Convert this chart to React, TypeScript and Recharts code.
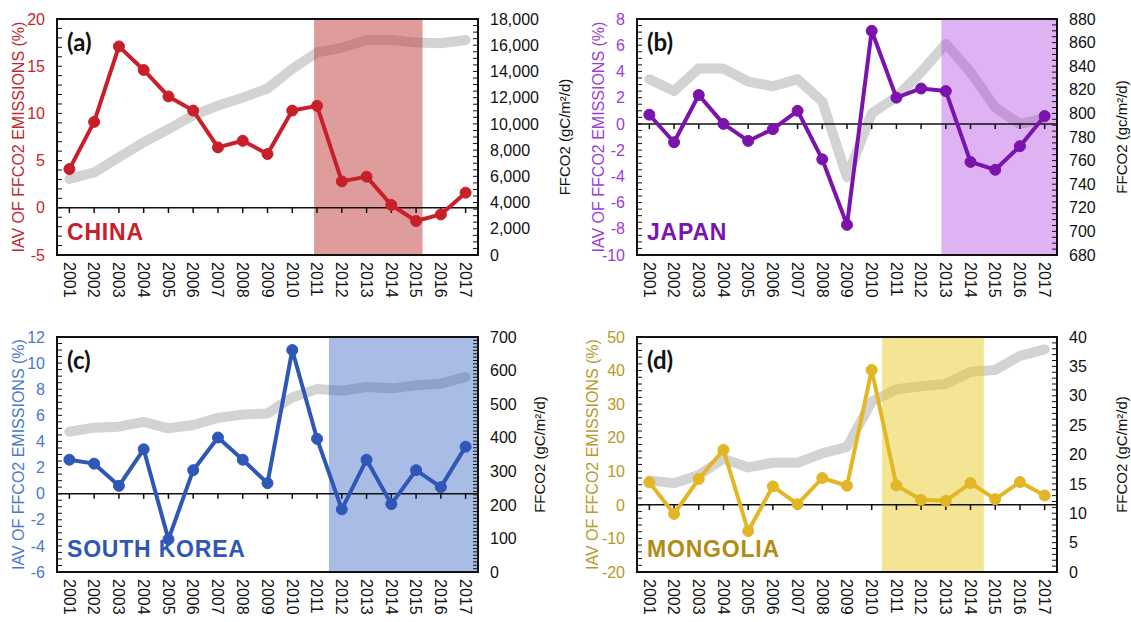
import React from 'react'
import { ComposedChart, Line, XAxis, YAxis, ReferenceArea, ReferenceLine } from 'recharts'

const years = [2001, 2002, 2003, 2004, 2005, 2006, 2007, 2008, 2009, 2010, 2011, 2012, 2013, 2014, 2015, 2016, 2017]

const chinaIav = [4.1, 9.1, 17.1, 14.6, 11.8, 10.3, 6.4, 7.1, 5.7, 10.3, 10.8, 2.8, 3.3, 0.3, -1.4, -0.7, 1.6]
const chinaFfco2 = [5800, 6300, 7450, 8600, 9600, 10650, 11400, 12000, 12700, 14200, 15450, 15800, 16400, 16400, 16200, 16150, 16400]

const japanIav = [0.7, -1.4, 2.2, 0, -1.3, -0.4, 1.0, -2.7, -7.7, 7.1, 2.0, 2.7, 2.5, -2.9, -3.5, -1.7, 0.6]
const japanFfco2 = [829, 819, 838, 838, 827, 823, 829, 810, 746, 800, 814, 835, 859, 835, 805, 791, 796]

const koreaIav = [2.6, 2.3, 0.6, 3.4, -3.5, 1.8, 4.3, 2.6, 0.8, 11.0, 4.2, -1.2, 2.6, -0.8, 1.8, 0.5, 3.6]
const koreaFfco2 = [418, 430, 433, 447, 428, 438, 459, 469, 472, 520, 545, 540, 551, 547, 556, 561, 581]

const mongoliaIav = [6.7, -2.7, 7.7, 16.4, -7.8, 5.5, 0.2, 8.0, 5.7, 40.2, 5.8, 1.5, 1.2, 6.5, 1.7, 6.8, 2.8]
const mongoliaFfco2 = [15.6, 15.1, 16.5, 19.3, 17.8, 18.6, 18.6, 20.2, 21.3, 29.0, 31.1, 31.6, 32.0, 34.1, 34.4, 36.8, 37.9]

const chinaLeftTicks = [-5, 0, 5, 10, 15, 20]
const chinaRightTicks = [0, 2000, 4000, 6000, 8000, 10000, 12000, 14000, 16000, 18000]
const japanLeftTicks = [-10, -8, -6, -4, -2, 0, 2, 4, 6, 8]
const japanRightTicks = [680, 700, 720, 740, 760, 780, 800, 820, 840, 860, 880]
const koreaLeftTicks = [-6, -4, -2, 0, 2, 4, 6, 8, 10, 12]
const koreaRightTicks = [0, 100, 200, 300, 400, 500, 600, 700]
const mongoliaLeftTicks = [-20, -10, 0, 10, 20, 30, 40, 50]
const mongoliaRightTicks = [0, 5, 10, 15, 20, 25, 30, 35, 40]

const FONT = '"Liberation Sans", Arial, sans-serif'

const minorTicks = (min: number, max: number, step: number) => {
  const out: number[] = []
  for (let v = min; v <= max + 1e-9; v += step) out.push(Math.round(v * 100) / 100)
  return out
}

const YearTick = (props: any) => {
  const { x, y, payload } = props
  return (
    <text x={x} y={y} dy="0.36em" transform={`rotate(90, ${x}, ${y})`} textAnchor="start"
      fontSize={16} fontFamily={FONT} fill="#111">
      {payload.value}
    </text>
  )
}

interface PanelProps {
  left: number
  top: number
  width: number
  height: number
  leftW: number
  rightW: number
  marginTop: number
  xAxisH: number
  color: string
  labelColor: string
  nameColor: string
  shade: string
  shadeOpacity: number
  shadeFrom: number
  shadeTo: number
  iav: number[]
  ffco2: number[]
  leftTicks: number[]
  leftStep: number
  rightTicks: number[]
  rightStep: number
  rightFormat?: (v: number) => string
  leftTitleGap: number
  rightTitleGap: number
  rightTitle: string
  letter: string
  country: string
}

function Panel(p: PanelProps) {
  const data = years.map((year, i) => ({ year, iav: p.iav[i], ffco2: p.ffco2[i] }))
  const lMin = p.leftTicks[0]
  const lMax = p.leftTicks[p.leftTicks.length - 1]
  const rMin = p.rightTicks[0]
  const rMax = p.rightTicks[p.rightTicks.length - 1]
  const lMinor = minorTicks(lMin, lMax, p.leftStep)
  const rMinor = minorTicks(rMin, rMax, p.rightStep)
  const tickLen = (lMax - lMin) * 0.022
  const fmt = p.rightFormat || ((v: number) => String(v))

  return (
    <div style={{ position: 'absolute', left: p.left, top: p.top }}>
      <ComposedChart width={p.width} height={p.height} data={data}
        margin={{ top: p.marginTop, right: 0, bottom: 0, left: 0 }}>
        <XAxis dataKey="year" type="number" domain={[2000.5, 2017.5]} ticks={years} interval={0}
          height={p.xAxisH} tickLine={false} axisLine={false} tickSize={0} tickMargin={7}
          tick={<YearTick />} />
        <YAxis yAxisId="left" orientation="left" width={p.leftW} domain={[lMin, lMax]}
          ticks={lMinor} interval={0} allowDataOverflow axisLine={false}
          tickSize={-5} tickMargin={17} tickLine={{ stroke: '#111' }}
          tickFormatter={(v: number) => (p.leftTicks.includes(v) ? String(v) : '')}
          tick={{ fill: p.labelColor, fontSize: 16, fontFamily: FONT }}
          label={(lp: any) => {
            const vb = lp.viewBox
            const cx = vb.x + vb.width - p.leftTitleGap
            const cy = vb.y + vb.height / 2
            return (
              <text x={cx} y={cy} dy="0.36em" transform={`rotate(-90, ${cx}, ${cy})`} textAnchor="middle"
                fontSize={16} fontFamily={FONT} fill={p.labelColor}>
                IAV OF FFCO2 EMISSIONS (%)
              </text>
            )
          }} />
        <YAxis yAxisId="right" orientation="right" width={p.rightW} domain={[rMin, rMax]}
          ticks={rMinor} interval={0} allowDataOverflow axisLine={false}
          tickSize={-5} tickMargin={17} tickLine={{ stroke: '#111' }}
          tickFormatter={(v: number) => (p.rightTicks.includes(v) ? fmt(v) : '')}
          tick={{ fill: '#111', fontSize: 16, fontFamily: FONT }}
          label={(lp: any) => {
            const vb = lp.viewBox
            const cx = vb.x + p.rightTitleGap
            const cy = vb.y + vb.height / 2
            return (
              <text x={cx} y={cy} dy="0.36em" transform={`rotate(-90, ${cx}, ${cy})`} textAnchor="middle"
                fontSize={15} fontFamily={FONT} fill="#111">
                {p.rightTitle}
              </text>
            )
          }} />
        <Line yAxisId="right" dataKey="ffco2" stroke="#d3d3d3" strokeWidth={10} dot={false}
          strokeLinejoin="round" strokeLinecap="round" isAnimationActive={false} zIndex={50} />
        <ReferenceArea yAxisId="left" x1={p.shadeFrom} x2={p.shadeTo} y1={lMin} y2={lMax}
          fill={p.shade} fillOpacity={p.shadeOpacity} stroke="none" zIndex={60} />
        <ReferenceLine yAxisId="left" y={0} stroke="#111" strokeWidth={1.5} zIndex={70} />
        {years.map(yr => (
          <ReferenceLine key={yr} yAxisId="left" stroke="#111" strokeWidth={1.5} zIndex={70}
            segment={[{ x: yr, y: 0 }, { x: yr, y: -tickLen }]} />
        ))}
        <Line yAxisId="left" dataKey="iav" stroke={p.color} strokeWidth={4}
          dot={{ r: 5.5, fill: p.color, stroke: p.color, strokeWidth: 1 }}
          strokeLinejoin="round" isAnimationActive={false} zIndex={400} />
        <ReferenceArea yAxisId="left" x1={2000.5} x2={2017.5} y1={lMin} y2={lMax}
          fill="none" stroke="#111" strokeWidth={2} zIndex={450} />
      </ComposedChart>
      <div style={{ position: 'absolute', left: p.leftW + 10, top: p.marginTop + 11, fontFamily: 'Lato, "Open Sans", sans-serif',
        fontWeight: 700, fontSize: 24, lineHeight: 1, color: '#111' }}>{p.letter}</div>
      <div style={{ position: 'absolute', left: p.leftW + 10, top: p.height - p.xAxisH - 34, fontFamily: FONT,
        fontWeight: 700, fontSize: 23, lineHeight: 1, letterSpacing: 0.8, color: p.nameColor, whiteSpace: 'nowrap' }}>{p.country}</div>
    </div>
  )
}

export default function App() {
  return (
    <div style={{ position: 'absolute', left: 0, top: 0, width: 1131, height: 622, background: '#fff', overflow: 'hidden' }}>
      <Panel left={0} top={0} width={580} height={311} leftW={57} rightW={102} marginTop={19} xAxisH={56}
        color="#c8202a" labelColor="#c3262d" nameColor="#c8202a" shade="#c0393b" shadeOpacity={0.5} shadeFrom={2010.88} shadeTo={2015.26}
        iav={chinaIav} ffco2={chinaFfco2} leftTicks={chinaLeftTicks} leftStep={1}
        rightTicks={chinaRightTicks} rightStep={500} rightFormat={(v) => v.toLocaleString('en-US')}
        leftTitleGap={39} rightTitleGap={87} rightTitle="FFCO2 (gC/m²/d)" letter="(a)" country="CHINA" />
      <Panel left={565} top={0} width={566} height={311} leftW={72} rightW={74} marginTop={19} xAxisH={56}
        color="#7a14ac" labelColor="#9a3dd6" nameColor="#7a14ac" shade="#b040e0" shadeOpacity={0.4} shadeFrom={2012.82} shadeTo={2017.5}
        iav={japanIav} ffco2={japanFfco2} leftTicks={japanLeftTicks} leftStep={0.5}
        rightTicks={japanRightTicks} rightStep={5}
        leftTitleGap={39} rightTitleGap={65} rightTitle="FFCO2 (gc/m²/d)" letter="(b)" country="JAPAN" />
      <Panel left={0} top={311} width={580} height={311} leftW={57} rightW={102} marginTop={26} xAxisH={50}
        color="#2e57b8" labelColor="#4a78c8" nameColor="#2e57b8" shade="#3060c0" shadeOpacity={0.42} shadeFrom={2011.48} shadeTo={2017.5}
        iav={koreaIav} ffco2={koreaFfco2} leftTicks={koreaLeftTicks} leftStep={0.5}
        rightTicks={koreaRightTicks} rightStep={10}
        leftTitleGap={39} rightTitleGap={62} rightTitle="FFCO2 (gC/m²/d)" letter="(c)" country="SOUTH KOREA" />
      <Panel left={565} top={311} width={566} height={311} leftW={72} rightW={74} marginTop={26} xAxisH={50}
        color="#e3b626" labelColor="#b8982a" nameColor="#b08c14" shade="#e8c820" shadeOpacity={0.48} shadeFrom={2010.42} shadeTo={2014.54}
        iav={mongoliaIav} ffco2={mongoliaFfco2} leftTicks={mongoliaLeftTicks} leftStep={2}
        rightTicks={mongoliaRightTicks} rightStep={1}
        leftTitleGap={45} rightTitleGap={65} rightTitle="FFCO2 (gC/m²/d)" letter="(d)" country="MONGOLIA" />
    </div>
  )
}
